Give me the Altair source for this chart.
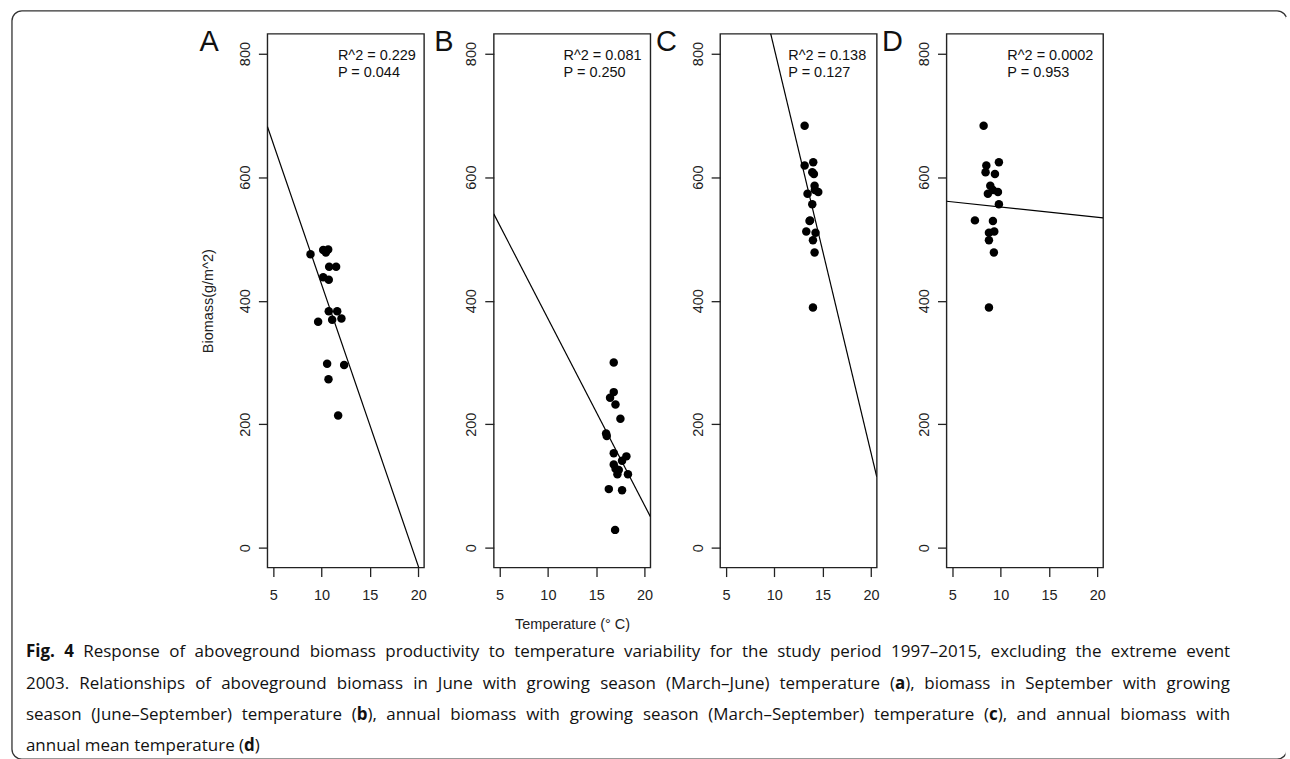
import os
import struct

import altair as alt
import pandas as pd

# ---------------- data ----------------
panel_letters = ["A", "B", "C", "D"]

# June biomass vs March-June temperature
temp_june = [8.86, 10.17, 10.45, 10.69, 10.79, 11.51, 10.17, 10.75, 10.75, 11.62,
             11.10, 12.06, 9.65, 10.58, 12.34, 10.72, 11.72]
biomass_june = [475, 482, 478, 483, 455, 455, 438, 434, 383, 383,
                369, 371, 366, 298, 296, 273, 214]

# September biomass vs June-September temperature
temp_sept = [16.81, 16.81, 16.43, 16.99, 17.50, 16.02, 16.09, 16.81, 18.12, 16.81,
             17.67, 17.33, 17.19, 18.28, 16.30, 17.67, 16.95, 17.00]
biomass_sept = [300, 252, 243, 232, 209, 185, 181, 153, 148, 135,
                141, 126, 119, 119, 95, 93, 29, 128]

# annual biomass vs March-September and annual mean temperature
temp_growing = [13.14, 13.14, 14.03, 13.93, 14.10, 14.17, 13.44, 14.55, 14.20,
                13.93, 13.70, 13.65, 14.27, 13.31, 14.00, 14.17, 14.00]
temp_annual = [8.24, 8.52, 9.82, 8.44, 9.41, 8.93, 8.68, 9.72, 9.20,
               9.82, 7.34, 9.20, 8.79, 9.34, 8.79, 9.30, 8.79]
biomass_annual = [683, 619, 624, 608, 605, 586, 573, 576, 579,
                  556, 530, 529, 510, 512, 498, 478, 389]

# fitted regression lines: biomass = intercept + slope * temperature
fit_intercept = [882.6, 673.6, 1462.0, 568.3]
fit_slope = [-45.6, -30.25, -65.4, -1.67]

r2_labels = ["R^2 = 0.229", "R^2 = 0.081", "R^2 = 0.138", "R^2 = 0.0002"]
p_labels = ["P = 0.044", "P = 0.250", "P = 0.127", "P = 0.953"]

x_ticks = [5, 10, 15, 20]
y_ticks = [0, 200, 400, 600, 800]

caption_lines = [
    [("Fig. 4", "bold"),
     (" Response of aboveground biomass productivity to temperature variability for the "
      "study period 1997\u20132015, excluding the extreme event", "normal")],
    [("2003. Relationships of aboveground biomass in June with growing season "
      "(March\u2013June) temperature (", "normal"),
     ("a", "bold"),
     ("), biomass in September with growing", "normal")],
    [("season (June\u2013September) temperature (", "normal"),
     ("b", "bold"),
     ("), annual biomass with growing season (March\u2013September) temperature (", "normal"),
     ("c", "bold"),
     ("), and annual biomass with", "normal")],
    [("annual mean temperature (", "normal"),
     ("d", "bold"),
     (")", "normal")],
]

# ---------------- layout ----------------
W, H = 157, 535
X_DOMAIN = [4.4, 20.6]
Y_DOMAIN = [-32, 832]
PANEL_GAP = 69.9
ORIGIN_X, ORIGIN_Y = 266, 31          # top-left of the first plot box on the page

annot_x = [70.7, 70.0, 68.3, 61.0]
letter_x = [-68, -59.6, -64.3, -64.7]

CAPTION_LEFT, CAPTION_RIGHT = 24, 1231
CAP_SIZE = 17
caption_y = [651, 683, 714, 745]

FONT = "Liberation Sans"
one_row = pd.DataFrame({"k": [0]})


# ---------------- caption text metrics (read from the installed font files) ----------------
def find_font_file(filename):
    roots = ["/usr/share/fonts", "/usr/local/share/fonts",
             os.path.expanduser("~/.fonts"), os.path.expanduser("~/.local/share/fonts")]
    for root in roots:
        for dirpath, _, files in os.walk(root):
            for f in files:
                if f.lower() == filename.lower():
                    return os.path.join(dirpath, f)
    return None


def advance_table(path):
    """Return a function giving the advance width (in em) of a string, or None."""
    try:
        data = open(path, "rb").read()
        ntab = struct.unpack(">H", data[4:6])[0]
        tables = {}
        for i in range(ntab):
            tag, _, off, length = struct.unpack(">4sIII", data[12 + 16 * i:28 + 16 * i])
            tables[tag.decode("latin1")] = off
        upem = struct.unpack(">H", data[tables["head"] + 18:tables["head"] + 20])[0]
        n_hm = struct.unpack(">H", data[tables["hhea"] + 34:tables["hhea"] + 36])[0]
        hm = tables["hmtx"]
        adv = [struct.unpack(">H", data[hm + 4 * i:hm + 4 * i + 2])[0] for i in range(n_hm)]
        co = tables["cmap"]
        nsub = struct.unpack(">H", data[co + 2:co + 4])[0]
        seg_info = None
        for i in range(nsub):
            pid, eid, off = struct.unpack(">HHI", data[co + 4 + 8 * i:co + 12 + 8 * i])
            st = co + off
            if struct.unpack(">H", data[st:st + 2])[0] == 4 and pid in (0, 3):
                segx2 = struct.unpack(">H", data[st + 6:st + 8])[0]
                n = segx2 // 2
                ends = struct.unpack(f">{n}H", data[st + 14:st + 14 + segx2])
                starts = struct.unpack(f">{n}H", data[st + 16 + segx2:st + 16 + 2 * segx2])
                deltas = struct.unpack(f">{n}h", data[st + 16 + 2 * segx2:st + 16 + 3 * segx2])
                ro = st + 16 + 3 * segx2
                ranges = struct.unpack(f">{n}H", data[ro:ro + segx2])
                seg_info = (ends, starts, deltas, ranges, ro)
                break
        if seg_info is None:
            return None
        ends, starts, deltas, ranges, ro = seg_info

        def glyph(c):
            for s in range(len(ends)):
                if starts[s] <= c <= ends[s]:
                    if ranges[s] == 0:
                        return (c + deltas[s]) & 0xFFFF
                    gi = ro + 2 * s + ranges[s] + 2 * (c - starts[s])
                    g = struct.unpack(">H", data[gi:gi + 2])[0]
                    return (g + deltas[s]) & 0xFFFF if g else 0
            return 0

        def width(s):
            return sum(adv[min(glyph(ord(ch)), n_hm - 1)] for ch in s) / upem
        return width
    except Exception:
        return None


# caption family: first one whose regular and bold files can be measured
CAPTION_FAMILIES = [
    ("Open Sans", "OpenSans-Regular.ttf", "OpenSans-Bold.ttf"),
    ("Noto Sans", "NotoSans-Regular.ttf", "NotoSans-Bold.ttf"),
    ("Lato", "Lato-Regular.ttf", "Lato-Bold.ttf"),
]
CAP_FONT, em_width = "Open Sans", None
for family, reg, bold in CAPTION_FAMILIES:
    reg_path, bold_path = find_font_file(reg), find_font_file(bold)
    if reg_path and bold_path:
        wr, wb = advance_table(reg_path), advance_table(bold_path)
        if wr and wb:
            CAP_FONT, em_width = family, {"normal": wr, "bold": wb}
            break
if em_width is None:
    em_width = {"normal": lambda s: 0.53 * len(s), "bold": lambda s: 0.58 * len(s)}


def text_width(s, weight):
    return em_width[weight](s) * CAP_SIZE


def split_words(runs):
    words, cur = [], []
    for txt, weight in runs:
        for j, part in enumerate(txt.split(" ")):
            if j > 0 and cur:
                words.append(cur)
                cur = []
            if part:
                cur.append((part, weight))
    if cur:
        words.append(cur)
    return words


def caption_fragments():
    """Left edge, row and weight of every caption fragment (all but the last line justified)."""
    frags = []
    space = text_width(" ", "normal")
    for li, runs in enumerate(caption_lines):
        words = split_words(runs)
        widths = [sum(text_width(t, w) for t, w in word) for word in words]
        gap = space
        if li < len(caption_lines) - 1 and len(words) > 1:
            gap = (CAPTION_RIGHT - CAPTION_LEFT - sum(widths)) / (len(words) - 1)
        x = CAPTION_LEFT
        for word, ww in zip(words, widths):
            fx = x
            for t, w in word:
                frags.append((t, w, fx, caption_y[li]))
                fx += text_width(t, w)
            x += ww + gap
    return frags


# ---------------- chart ----------------
def text_layer(txt, x, y, size, weight="normal", font=FONT, align="left", baseline="alphabetic"):
    return alt.Chart(one_row).mark_text(
        text=txt, font=font, fontSize=size, fontWeight=weight,
        align=align, baseline=baseline, color="#111"
    ).encode(x=alt.value(x), y=alt.value(y))


def panel(i, temps, bios):
    xscale = alt.Scale(domain=X_DOMAIN, nice=False, zero=False)
    yscale = alt.Scale(domain=Y_DOMAIN, nice=False, zero=False)
    x_axis = alt.Axis(values=x_ticks, title="Temperature (\u00b0 C)" if i == 1 else "",
                      labelPadding=12, titlePadding=16)
    y_axis = alt.Axis(values=y_ticks, title="Biomass(g/m^2)" if i == 0 else "",
                      labelAngle=270, labelAlign="center", labelBaseline="bottom",
                      labelPadding=6, titlePadding=22)

    pts = pd.DataFrame({"temperature": temps, "biomass": bios})
    points = alt.Chart(pts).mark_circle(size=72, color="black", opacity=1).encode(
        x=alt.X("temperature:Q", scale=xscale, axis=x_axis),
        y=alt.Y("biomass:Q", scale=yscale, axis=y_axis),
    )

    ends = pd.DataFrame({"temperature": X_DOMAIN})
    fit = alt.Chart(ends).mark_line(color="black", strokeWidth=1.2, clip=True).transform_calculate(
        biomass=f"{fit_intercept[i]} + ({fit_slope[i]}) * datum.temperature"
    ).encode(
        x=alt.X("temperature:Q", scale=xscale),
        y=alt.Y("biomass:Q", scale=yscale),
    )

    layers = [points, fit,
              text_layer(r2_labels[i], annot_x[i], 26.3, 14.5),
              text_layer(p_labels[i], annot_x[i], 43.3, 14.5),
              text_layer(panel_letters[i], letter_x[i], 17, 29)]

    if i == 0:
        # rounded frame around the whole figure; its right side runs off the page
        frame = alt.Chart(one_row).mark_rect(
            fill="white", fillOpacity=0, stroke="#333", strokeWidth=1.3, cornerRadius=10
        ).encode(
            x=alt.value(10 - ORIGIN_X), x2=alt.value(1288 - ORIGIN_X),
            y=alt.value(8 - ORIGIN_Y), y2=alt.value(758 - ORIGIN_Y),
        )
        edge_cover = alt.Chart(one_row).mark_rect(color="white").encode(
            x=alt.value(1286.5 - ORIGIN_X), x2=alt.value(1289.5 - ORIGIN_X),
            y=alt.value(14 - ORIGIN_Y), y2=alt.value(759 - ORIGIN_Y),
        )
        layers.insert(0, edge_cover)
        layers.insert(0, frame)
        # figure caption, justified between the frame margins
        for txt, weight, fx, fy in caption_fragments():
            layers.append(text_layer(txt, fx - ORIGIN_X, fy - ORIGIN_Y, CAP_SIZE,
                                     weight=weight, font=CAP_FONT, baseline="middle"))

    return alt.layer(*layers).properties(width=W, height=H)


panels = [
    panel(0, temp_june, biomass_june),
    panel(1, temp_sept, biomass_sept),
    panel(2, temp_growing, biomass_annual),
    panel(3, temp_annual, biomass_annual),
]

chart = alt.hconcat(*panels, spacing=PANEL_GAP, bounds="flush").properties(
    padding={"left": 10, "top": 8, "right": 0, "bottom": 0},
    background="white",
).configure_view(
    stroke="#222", strokeWidth=1.4
).configure_axis(
    domain=False, grid=False,
    tickSize=9, tickColor="#222", tickWidth=1.3,
    labelFont=FONT, labelFontSize=14.5, labelColor="#222",
    titleFont=FONT, titleFontSize=14.5, titleFontWeight="normal", titleColor="#222",
)

chart.save("out.html", embed_options={"renderer": "svg", "actions": False})
